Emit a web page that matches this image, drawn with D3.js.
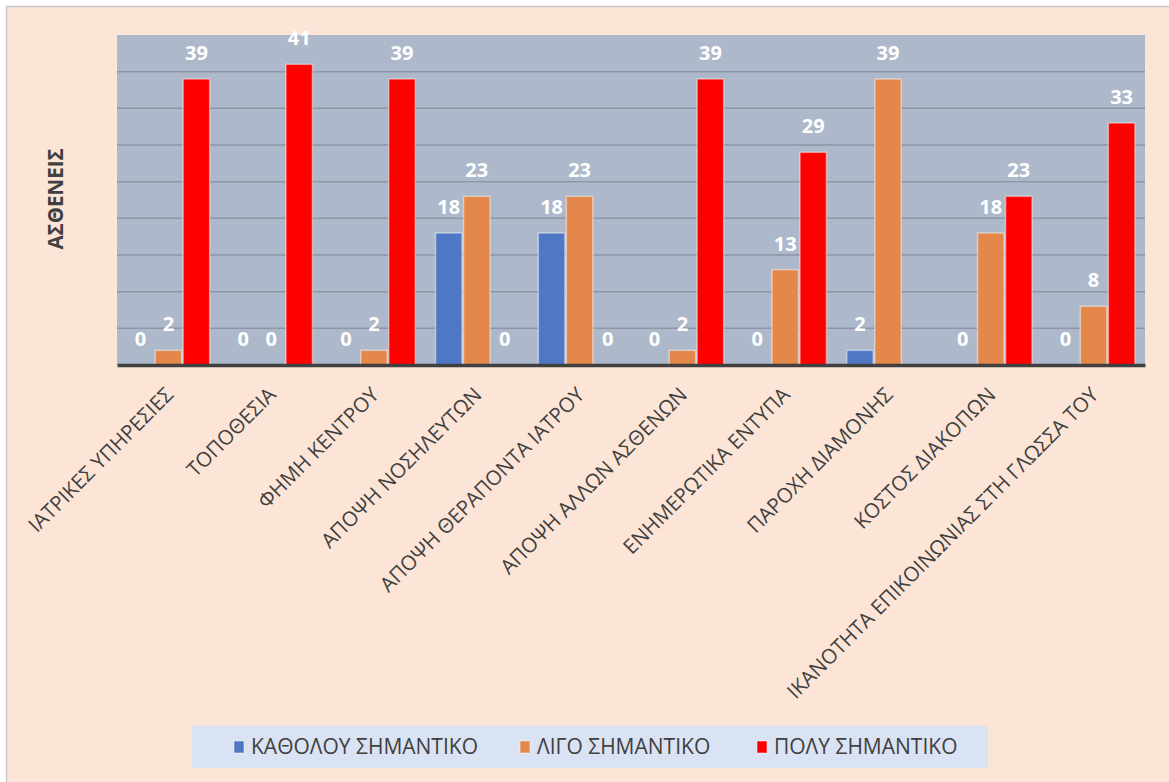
<!DOCTYPE html>
<html>
<head>
<meta charset="utf-8">
<script src="https://cdn.jsdelivr.net/npm/d3@7"></script>
<style>
  html, body { margin: 0; padding: 0; background: #ffffff; }
  svg { display: block; }
</style>
</head>
<body>
<script>
const categories = [
  "ΙΑΤΡΙΚΕΣ ΥΠΗΡΕΣΙΕΣ",
  "ΤΟΠΟΘΕΣΙΑ",
  "ΦΗΜΗ ΚΕΝΤΡΟΥ",
  "ΑΠΟΨΗ ΝΟΣΗΛΕΥΤΩΝ",
  "ΑΠΟΨΗ ΘΕΡΑΠΟΝΤΑ ΙΑΤΡΟΥ",
  "ΑΠΟΨΗ ΑΛΛΩΝ ΑΣΘΕΝΩΝ",
  "ΕΝΗΜΕΡΩΤΙΚΑ ΕΝΤΥΠΑ",
  "ΠΑΡΟΧΗ ΔΙΑΜΟΝΗΣ",
  "ΚΟΣΤΟΣ ΔΙΑΚΟΠΩΝ",
  "ΙΚΑΝΟΤΗΤΑ ΕΠΙΚΟΙΝΩΝΙΑΣ ΣΤΗ ΓΛΩΣΣΑ ΤΟΥ"
];
const seriesNames = ["ΚΑΘΟΛΟΥ ΣΗΜΑΝΤΙΚΟ", "ΛΙΓΟ ΣΗΜΑΝΤΙΚΟ", "ΠΟΛΥ ΣΗΜΑΝΤΙΚΟ"];
const kathólou = [0, 0, 0, 18, 18, 0, 0, 2, 0, 0];
const ligo     = [2, 0, 2, 23, 23, 2, 13, 39, 18, 8];
const poly     = [39, 41, 39, 0, 0, 39, 29, null, 23, 33];
const yTicks   = [0, 5, 10, 15, 20, 25, 30, 35, 40, 45];
const yTitle   = "ΑΣΘΕΝΕΙΣ";

const seriesValues = [kathólou, ligo, poly];
const colors = ["#4F78C4", "#E3874A", "#FF0000"];

const W = 1169, H = 782;
const plot = { left: 117, right: 1145, top: 35, bottom: 365 };

const svg = d3.select("body").append("svg").attr("width", W).attr("height", H);

// chart background + border
svg.append("rect").attr("x", 6.5).attr("y", 6.5).attr("width", W).attr("height", H)
  .attr("fill", "#FCE5D7").attr("stroke", "#C9C9C9").attr("stroke-width", 1.5);

// plot area
svg.append("rect").attr("x", plot.left).attr("y", plot.top)
  .attr("width", plot.right - plot.left).attr("height", plot.bottom - plot.top)
  .attr("fill", "#ADB9CA");

const x0 = d3.scaleBand().domain(categories).range([plot.left, plot.right]).paddingInner(0).paddingOuter(0);
const x1 = d3.scaleBand().domain(d3.range(3)).range([0, x0.bandwidth()]).paddingInner(0).paddingOuter(0.335);
const y = d3.scaleLinear().domain([0, 45]).range([plot.bottom, plot.top]);

// gridlines
svg.append("g").selectAll("line").data(yTicks.filter(t => t > 0 && t < 45)).join("line")
  .attr("x1", plot.left).attr("x2", plot.right)
  .attr("y1", d => y(d)).attr("y2", d => y(d))
  .attr("stroke", "#8C96A5").attr("stroke-width", 1.5);

// bars
const groups = svg.append("g").selectAll("g").data(categories).join("g")
  .attr("transform", d => `translate(${x0(d)},0)`);

groups.selectAll("rect").data((d, i) => seriesValues.map((s, k) => ({ k, v: s[i] })))
  .join("rect")
  .filter(d => d.v !== null && d.v > 0)
  .attr("x", d => x1(d.k) + 0.75)
  .attr("width", x1.bandwidth() - 1.5)
  .attr("y", d => y(d.v))
  .attr("height", d => y(0) - y(d.v))
  .attr("fill", d => colors[d.k])
  .attr("stroke", "rgba(255,255,255,0.45)")
  .attr("stroke-width", 1.5);

// data labels
groups.selectAll("text").data((d, i) => seriesValues.map((s, k) => ({ k, v: s[i] })).filter(d => d.v !== null))
  .join("text")
  .attr("x", d => x1(d.k) + x1.bandwidth() / 2)
  .attr("y", d => y(d.v) - 19)
  .attr("text-anchor", "middle")
  .attr("font-family", "'Open Sans', sans-serif")
  .attr("font-weight", "bold")
  .attr("font-size", 20)
  .attr("fill", "#FFFFFF")
  .text(d => d.v);

// baseline axis
const xAxis = d3.axisBottom(x0).tickSize(0).tickFormat("");
const axG = svg.append("g").attr("transform", `translate(0,${plot.bottom})`).call(xAxis);
axG.select(".domain").attr("stroke", "#404040").attr("stroke-width", 3.5);

// x labels
svg.append("g").selectAll("text").data(categories).join("text")
  .attr("transform", d => `translate(${x0(d) + x0.bandwidth() / 2 + 1},391) rotate(-45)`)
  .attr("text-anchor", "end")
  .attr("dy", "0.35em")
  .attr("font-family", "'Open Sans', sans-serif")
  .attr("font-size", 20.5)
  .attr("fill", "#404040")
  .text(d => d);

// y title
svg.append("text")
  .attr("transform", `translate(63,${(plot.top + plot.bottom) / 2 - 1}) rotate(-90)`)
  .attr("text-anchor", "middle")
  .attr("font-family", "'Open Sans', sans-serif")
  .attr("font-weight", "bold")
  .attr("font-size", 20.5)
  .attr("fill", "#404040")
  .text(yTitle);

// legend
const leg = svg.append("g");
leg.append("rect").attr("x", 192).attr("y", 726).attr("width", 796).attr("height", 42).attr("fill", "#DAE3F3");
const legX = [234, 520, 757];
const legItems = leg.selectAll("g").data(seriesNames).join("g")
  .attr("transform", (d, i) => `translate(${legX[i]},747)`);
legItems.append("rect").attr("x", 0).attr("y", -6).attr("width", 10).attr("height", 12)
  .attr("fill", (d, i) => colors[i]).attr("stroke", "rgba(255,255,255,0.5)");
legItems.append("text").attr("x", 17).attr("dy", "0.35em")
  .attr("font-family", "'Open Sans', sans-serif")
  .attr("font-size", 21)
  .attr("fill", "#404040")
  .text(d => d);
</script>
</body>
</html>
